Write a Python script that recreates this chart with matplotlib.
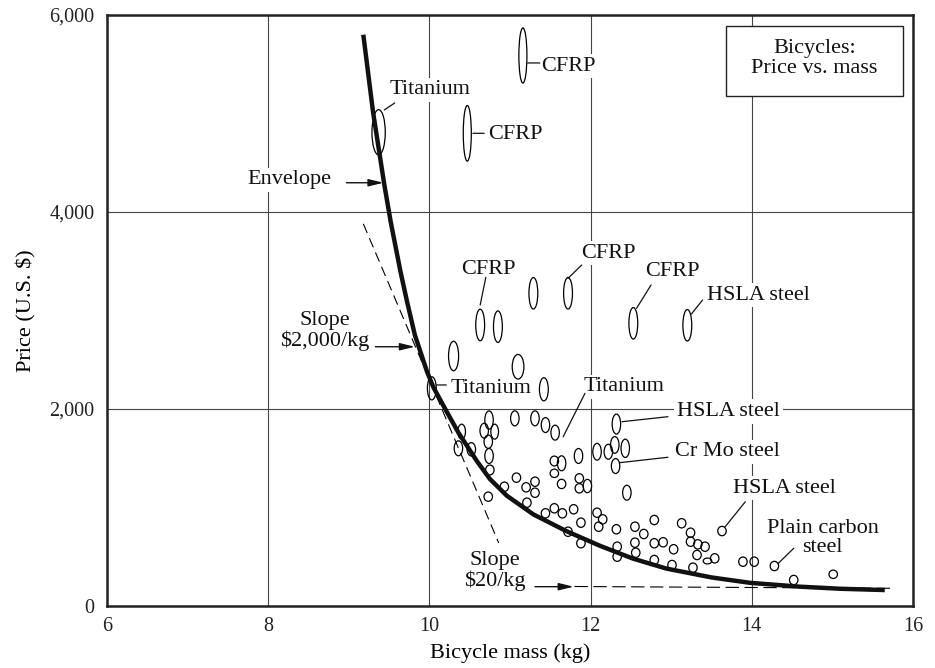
import matplotlib
matplotlib.use('Agg')
import matplotlib.pyplot as plt
from matplotlib.patches import Ellipse, Rectangle

plt.rcParams['font.family'] = ['Liberation Serif', 'DejaVu Serif']

# bicycles: mass (kg), price (US $), and the size of each ellipse (spread)
bike_mass = [9.37, 10.47, 11.16,
             10.30, 10.63, 10.85, 11.10, 11.29, 11.72, 12.53, 13.20, 10.03, 11.42,
             10.74, 11.06, 11.31, 11.44, 11.56, 12.32, 10.40, 10.68, 10.81, 10.73,
             10.36, 10.52, 10.74, 10.75, 11.55, 11.64, 11.85, 12.08, 12.22, 12.30,
             12.43, 12.31, 11.55, 11.64, 11.86, 11.86, 11.96, 11.08, 11.20, 11.31,
             11.31, 10.93, 10.73, 11.21, 12.45, 11.44, 11.55, 11.65, 11.79, 11.88,
             11.72, 11.88, 12.08, 12.15, 12.10, 12.32, 12.33, 12.33, 12.55, 12.66,
             12.79, 12.55, 12.56, 12.79, 12.90, 12.79, 13.01, 13.03, 13.13, 13.24,
             13.24, 13.33, 13.42, 13.32, 13.45, 13.54, 13.27, 13.63, 13.89, 14.03,
             14.28, 14.52, 15.01]
bike_price = [4809, 4799, 5589,
              2538, 2853, 2836, 2429, 3175, 3175, 2870, 2850, 2210, 2200,
              1888, 1905, 1905, 1837, 1760, 1847, 1770, 1780, 1770, 1668,
              1601, 1591, 1523, 1381, 1472, 1449, 1523, 1566, 1566, 1635,
              1601, 1421, 1347, 1239, 1296, 1195, 1218, 1303, 1205, 1262,
              1150, 1211, 1110, 1049, 1150, 941, 992, 941, 982, 846,
              754, 637, 947, 880, 805, 779, 602, 501, 805, 731,
              873, 643, 541, 637, 647, 467, 416, 576, 840, 744,
              653, 626, 602, 518, 457, 484, 389, 761, 450, 450,
              406, 264, 322]
price_spread = [460, 565, 560,
                300, 320, 320, 250, 320, 320, 320, 320, 235, 235,
                185, 152, 152, 152, 152, 203, 152, 152, 152, 135,
                152, 135, 152, 100, 100, 152, 152, 170, 152, 170,
                186, 152, 85, 95, 95, 95, 135, 95, 95, 95,
                95, 95, 95, 95, 152, 95, 95, 95, 95, 95,
                95, 95, 95, 95, 95, 95, 95, 95, 95, 95,
                95, 95, 95, 95, 95, 95, 95, 95, 95, 95,
                95, 95, 95, 95, 60, 95, 95, 95, 95, 95,
                95, 95, 85]
mass_spread = [0.165, 0.10, 0.10,
               0.125, 0.11, 0.11, 0.145, 0.11, 0.11, 0.11, 0.11, 0.11, 0.11] + \
              [0.105] * 6 + [0.095, 0.105, 0.095] + [0.105] * 4 + [0.105] * 70

# lower envelope
env_mass = [9.18, 9.30, 9.44, 9.52, 9.64, 9.72, 9.82, 9.97, 10.05, 10.21, 10.36, 10.59,
            10.75, 10.96, 11.29, 11.70, 12.12, 12.53, 12.94, 13.50, 13.98, 14.60, 15.10, 15.65]
env_price = [5800, 5020, 4280, 3900, 3400, 3100, 2750, 2380, 2220, 1980, 1760, 1470,
             1290, 1120, 930, 760, 610, 480, 380, 290, 235, 196, 175, 162]

# tangent lines
slope2000_mass = [9.18, 10.86]
slope2000_price = [3880, 640]
slope20_mass = [11.80, 15.72]
slope20_price = [198, 180]

xticks = [6, 8, 10, 12, 14, 16]
yticks = [0, 2000, 4000, 6000]
ytick_labels = ['0', '2,000', '4,000', '6,000']

fig = plt.figure(figsize=(9.35, 6.68), dpi=100)
ax = fig.add_axes([107 / 935, 62 / 668, 806 / 935, 591 / 668])
ax.set_xlim(6, 16)
ax.set_ylim(0, 6000)
ax.set_xticks(xticks)
ax.set_yticks(yticks)
ax.set_yticklabels(ytick_labels)
ax.tick_params(length=0, labelsize=14.5, colors='#222222')
ax.tick_params(axis='x', pad=8)
ax.tick_params(axis='y', pad=9)
ax.grid(True, color='#444444', lw=0.8, zorder=0)
ax.set_axisbelow(True)
for s in ax.spines.values():
    s.set_linewidth(1.8)
    s.set_color('#222222')

ax.set_xlabel('Bicycle mass (kg)', fontsize=16)
ax.xaxis.set_label_coords(0.5, -0.063)
ax.set_ylabel('Price (U.S. $)', fontsize=16)
ax.yaxis.set_label_coords(-0.088, 0.5)

for m, p, w, h in zip(bike_mass, bike_price, mass_spread, price_spread):
    ax.add_patch(Ellipse((m, p), w, h, fc='none', ec='black', lw=0.9, zorder=4))

ax.plot(env_mass, env_price, color='#111111', lw=3.2, solid_capstyle='butt', zorder=5)
ax.plot(slope2000_mass, slope2000_price, color='black', lw=0.8, ls=(0, (9, 5)), zorder=3)
ax.plot(slope20_mass, slope20_price, color='black', lw=0.8, ls=(0, (12, 5)), zorder=3)

box = dict(boxstyle='square,pad=0.12', fc='white', ec='none')
labels = [
    ('Titanium', 10.01, 5239, 'center'),
    ('CFRP', 11.39, 5482, 'left'),
    ('CFRP', 10.73, 4782, 'left'),
    ('Envelope', 8.26, 4325, 'center'),
    ('Slope\n$2,000/kg', 8.70, 2792, 'center'),
    ('CFRP', 10.73, 3418, 'center'),
    ('CFRP', 12.22, 3581, 'center'),
    ('CFRP', 13.02, 3394, 'center'),
    ('HSLA steel', 13.44, 3157, 'left'),
    ('Titanium', 10.77, 2210, 'center'),
    ('Titanium', 12.41, 2226, 'center'),
    ('HSLA steel', 13.71, 1973, 'center'),
    ('Cr Mo steel', 13.70, 1566, 'center'),
    ('HSLA steel', 14.40, 1195, 'center'),
    ('Plain carbon\nsteel', 14.88, 690, 'center'),
    ('Slope\n$20/kg', 10.81, 355, 'center'),
]
for txt, x, y, ha in labels:
    ax.text(x, y, txt, ha=ha, va='center', fontsize=16, color='#111111',
            linespacing=1.05, bbox=box, zorder=3)

leaders = [
    ((9.57, 5107), (9.44, 5036)),
    ((11.22, 5513), (11.37, 5513)),
    ((10.54, 4799), (10.68, 4799)),
    ((10.70, 3337), (10.63, 3056)),
    ((11.89, 3462), (11.72, 3327)),
    ((12.75, 3259), (12.57, 3022)),
    ((13.39, 3107), (13.25, 2964)),
    ((10.09, 2244), (10.21, 2244)),
    ((11.93, 2159), (11.66, 1719)),
    ((12.96, 1922), (12.39, 1871)),
    ((12.96, 1510), (12.36, 1455)),
    ((13.92, 1059), (13.67, 805)),
    ((14.52, 586), (14.33, 434)),
]
for a, b in leaders:
    ax.annotate('', xy=b, xytext=a,
                arrowprops=dict(arrowstyle='-', lw=0.9, color='#111111',
                                shrinkA=0, shrinkB=0), zorder=3)

arrows = [
    ((8.97, 4297), (9.43, 4297)),
    ((9.33, 2632), (9.82, 2632)),
    ((11.31, 196), (11.79, 196)),
]
for a, b in arrows:
    ax.annotate('', xy=b, xytext=a,
                arrowprops=dict(arrowstyle='-|>,head_length=0.9,head_width=0.22',
                                mutation_scale=10, lw=1.0, color='#111111',
                                shrinkA=0, shrinkB=0), zorder=6)

ax.add_patch(Rectangle((0.768, 0.863), 0.22, 0.118, transform=ax.transAxes,
                       fc='white', ec='#222222', lw=1.0, zorder=3))
ax.text(0.878, 0.926, 'Bicycles:\nPrice vs. mass', transform=ax.transAxes,
        ha='center', va='center', fontsize=16, linespacing=1.1, color='#111111', zorder=4)

fig.savefig('out.png', dpi=100)
